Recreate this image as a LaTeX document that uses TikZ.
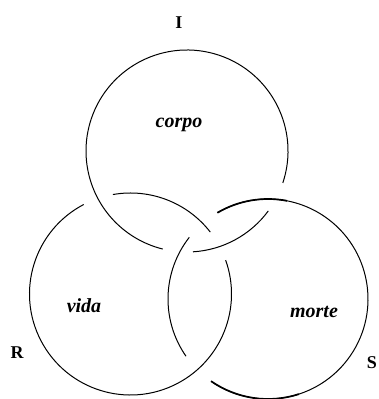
\documentclass[tikz,border=0pt]{standalone}
\usepackage{fontspec}
\setmainfont{Liberation Serif}
\begin{document}
\begin{tikzpicture}[x=1pt,y=1pt,
  ring/.style={line width=1pt, black},
  ringthick/.style={line width=1.7pt, black},
  word/.style={font=\fontsize{20}{24}\selectfont\bfseries\itshape, inner sep=0pt, anchor=base},
  letter/.style={font=\fontsize{18}{22}\selectfont\bfseries, inner sep=0pt}]
\useasboundingbox (0,0) rectangle (378,399);
\coordinate (cI) at (187,248);
\coordinate (cR) at (130.5,105);
\coordinate (cS) at (268,100);
% I ring (corpo)
\draw[ring] ([shift={(-18.4:101)}]cI) arc[start angle=-18.4, end angle=256.1, radius=101];
\draw[ring] ([shift={(-86.6:101)}]cI) arc[start angle=-86.6, end angle=-36.4, radius=101];
% R ring (vida)
\draw[ring] ([shift={(37.8:101)}]cR) arc[start angle=37.8, end angle=100, radius=101];
\draw[ring] ([shift={(117.6:101)}]cR) arc[start angle=117.6, end angle=379.6, radius=101];
% S ring (morte)
\draw[ring] ([shift={(141.9:100)}]cS) arc[start angle=141.9, end angle=214.9, radius=100];
\draw[ring] ([shift={(235.3:100)}]cS) arc[start angle=235.3, end angle=480.4, radius=100];
\draw[ringthick] ([shift={(79:100)}]cS) arc[start angle=79, end angle=120.4, radius=100];
\draw[ringthick] ([shift={(235.3:100)}]cS) arc[start angle=235.3, end angle=288, radius=100];
% words
\node[word] (corpo) at (179,271) {corpo};
\node[word] (vida) at (84,86) {vida};
\node[word] (morte) at (314,81) {morte};
% letters
\node[letter] (lI) at (179,376) {I};
\node[letter] (lR) at (17,46) {R};
\node[letter] (lS) at (372,36) {S};
\end{tikzpicture}
\end{document}
